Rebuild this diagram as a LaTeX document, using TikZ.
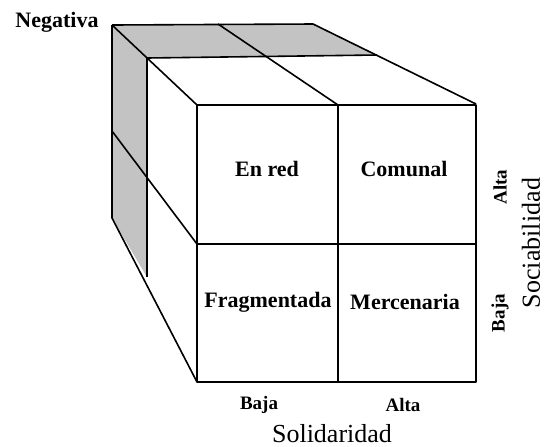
\documentclass[tikz,border=0pt]{standalone}
\usepackage{fontspec}
\setmainfont{Liberation Serif}
\usepackage{tikz}
\usepackage{xcolor}

\definecolor{cubegray}{RGB}{195,195,195}

\tikzset{
  edge/.style={line width=0.8pt, line join=round},
  tipo/.style={font=\fontsize{11}{13}\selectfont\bfseries},
  nivel/.style={font=\fontsize{9.5}{11}\selectfont\bfseries},
  eje/.style={font=\fontsize{13}{15}\selectfont}
}

\begin{document}
\begin{tikzpicture}[x=0.5pt, y=-0.5pt]
    \useasboundingbox (0,0) rectangle (544,446);
    % corners of the cube
    \coordinate (FTL) at (197,105);
    \coordinate (FTR) at (476,104);
    \coordinate (FBR) at (476,382);
    \coordinate (FBL) at (197,382);
    \coordinate (FTM) at (338,105);
    \coordinate (FBM) at (338,382);
    \coordinate (FLM) at (197,244);
    \coordinate (FRM) at (476,244);
    \coordinate (BTL) at (112,25);
    \coordinate (BTR) at (313,24);
    \coordinate (BBL) at (112,218);
    \coordinate (BTM) at (218,24);
    \coordinate (BLM) at (112,131);
    \coordinate (MTL) at (147,58);
    \coordinate (MTR) at (377,55);
    \coordinate (MBL) at (147,277);
    % back halves in gray
    \fill [cubegray] (BTL) -- (BTR) -- (MTR) -- (MTL) -- cycle;
    \fill [cubegray] (BTL) -- (MTL) -- (MBL) -- (BBL) -- cycle;
    % edges
    \draw [edge] (BTL) -- (BTR) -- (FTR);
    \draw [edge] (BTL) -- (FTL);
    \draw [edge] (BTL) -- (BBL) -- (FBL);
    \draw [edge] (MTL) -- (MTR);
    \draw [edge] (MTL) -- (MBL);
    \draw [edge] (BTM) -- (FTM);
    \draw [edge] (BLM) -- (FLM);
    \draw [edge] (FTL) rectangle (FBR);
    \draw [edge] (FTM) -- (FBM);
    \draw [edge] (FLM) -- (FRM);
    % labels
    \node [tipo] (enred) at (267,169) {En red};
    \node [tipo] (comunal) at (404,169) {Comunal};
    \node [tipo] (frag) at (268,302) {Fragmentada};
    \node [tipo] (merc) at (405,302) {Mercenaria};
    \node [tipo] (neg) at (57,22) {Negativa};
    \node [nivel] (solbaja) at (259,405) {Baja};
    \node [nivel] (solalta) at (403,405) {Alta};
    \node [eje] (sol) at (332,434) {Solidaridad};
    \node [nivel, rotate=90] (socalta) at (500,187) {Alta};
    \node [nivel, rotate=90] (socbaja) at (500,313) {Baja};
    \node [eje, rotate=90] (soc) at (531,243) {Sociabilidad};
\end{tikzpicture}
\end{document}
